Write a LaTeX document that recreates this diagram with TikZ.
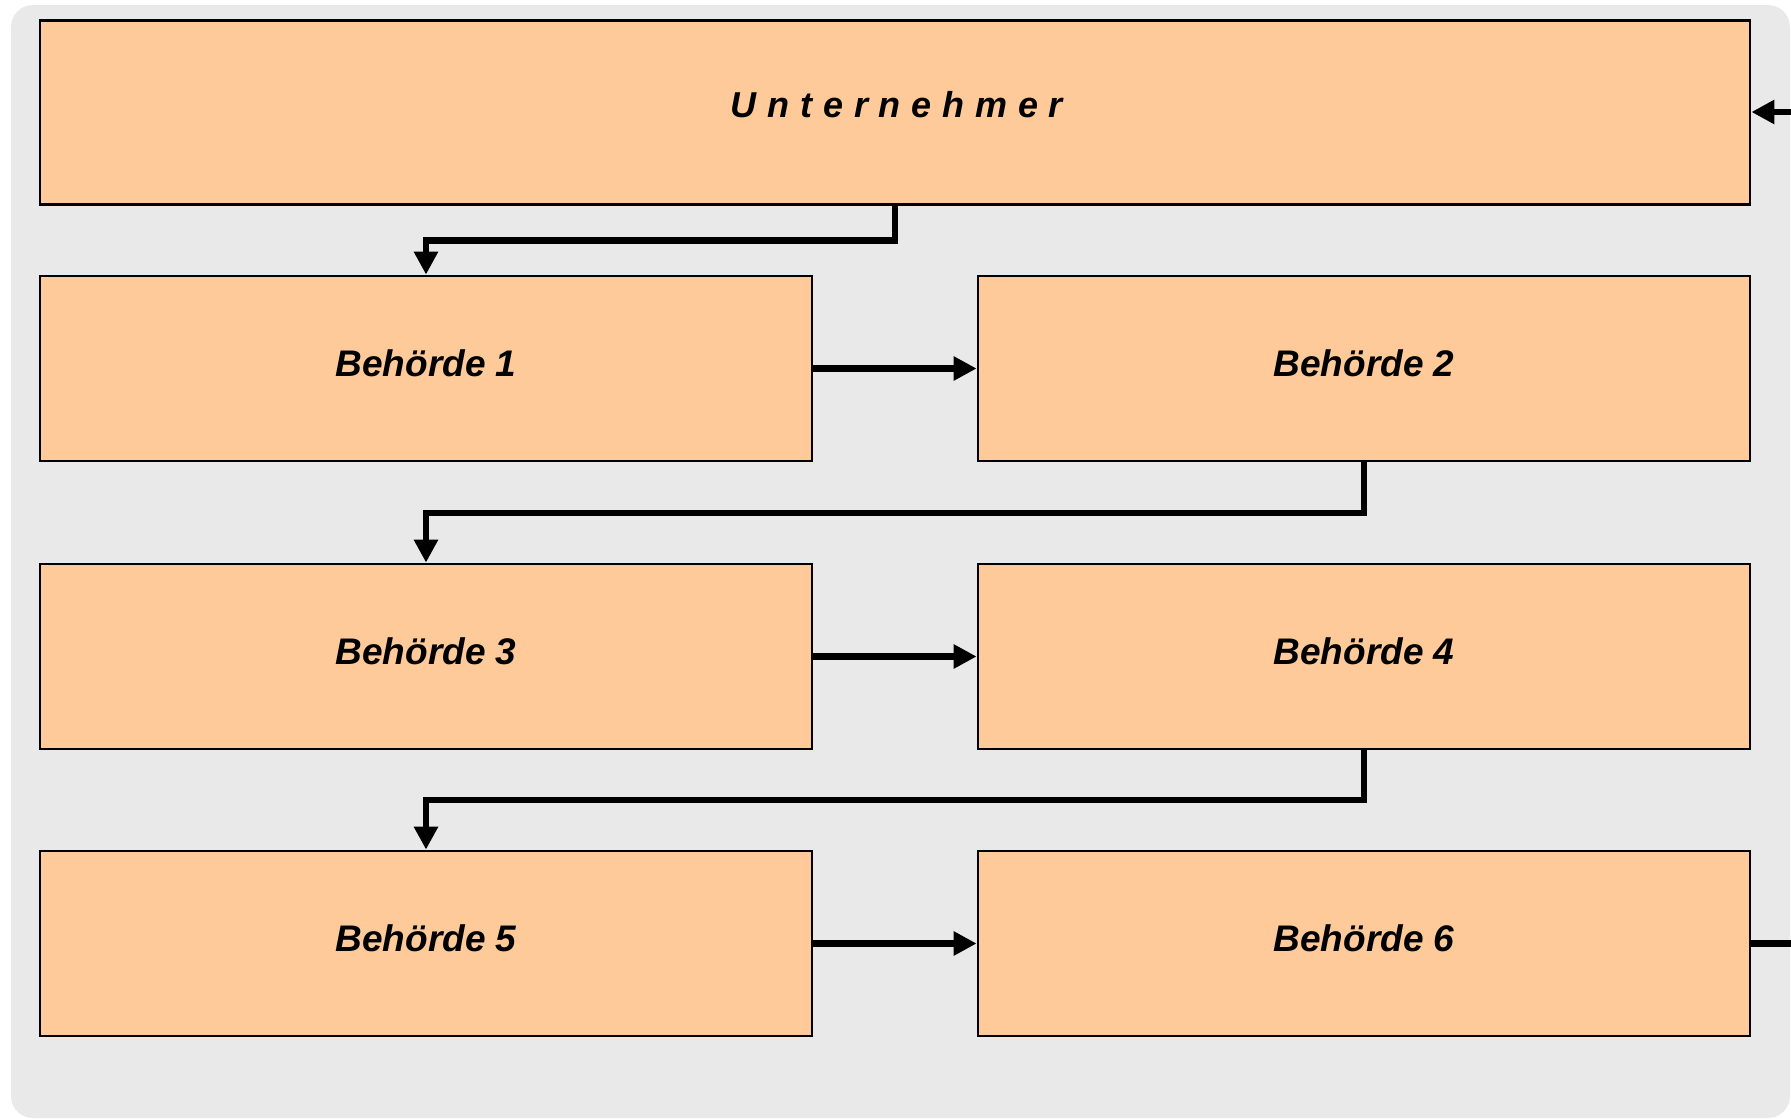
\documentclass[tikz,border=0pt]{standalone}
\usepackage{fontspec}
\setmainfont{Liberation Sans}
\usetikzlibrary{arrows.meta}
\definecolor{boxfill}{RGB}{254,202,153}
\definecolor{bgfill}{RGB}{233,233,233}
\begin{document}
\begin{tikzpicture}[x=1pt,y=-1pt,
  box/.style={draw=black,line width=2.8pt,fill=boxfill,inner sep=0pt,
    minimum height=185pt,text depth=0pt},
  half/.style={box,minimum width=772pt},
  lbl/.style={font=\fontsize{37}{40}\selectfont\bfseries\itshape},
  conn/.style={line width=6.8pt,-{Triangle[width=23pt,length=23pt]}},
  plain/.style={line width=6.8pt}]
\useasboundingbox (0,0) rectangle (1791,1119);
\fill[bgfill,rounded corners=22pt] (11,5) rectangle (1790,1118);
\node[box,minimum width=1710pt,minimum height=184pt] (U) at (895,112.5) {};
\node[lbl,font=\fontsize{36}{40}\selectfont\bfseries\itshape\addfontfeature{LetterSpace=30}] (Ut) at (897,105) {Unternehmer};
\node[half] (B1) at (426,368.5) {};
\node[half] (B2) at (1364,368.5) {};
\node[half] (B3) at (426,656.5) {};
\node[half] (B4) at (1364,656.5) {};
\node[half] (B5) at (426,943.5) {};
\node[half] (B6) at (1364,943.5) {};
\foreach \n/\t in {B1/1,B2/2,B3/3,B4/4,B5/5,B6/6}{
  \node[lbl] (\n t) at ([yshift=5pt]\n.center) {Behörde \t};
}
\coordinate (inR) at (1791,112);
\coordinate (outR) at (1791,943.5);
\draw[conn] (U.south) |- (426,240.5) -- (B1.north);
\draw[conn] (B2.south) |- (426,513) -- (B3.north);
\draw[conn] (B4.south) |- (426,800) -- (B5.north);
\draw[conn] (B1.east) -- (B2.west);
\draw[conn] (B3.east) -- (B4.west);
\draw[conn] (B5.east) -- (B6.west);
\draw[plain] (B6.east) -- (outR);
\draw[conn] (inR) -- (U.east |- inR);
\end{tikzpicture}
\end{document}
